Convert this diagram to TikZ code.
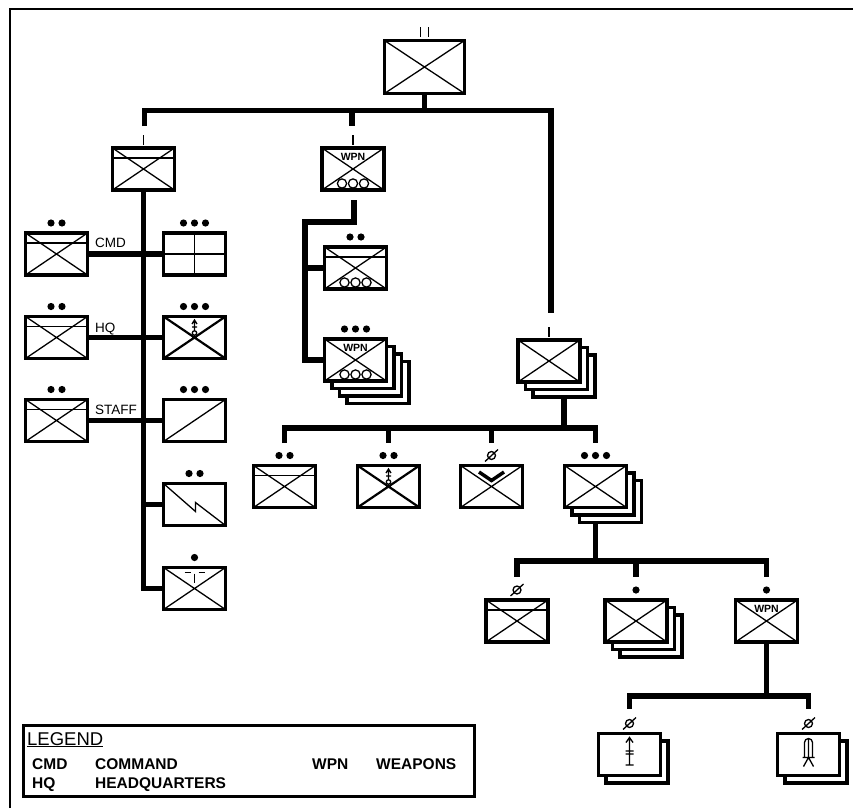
\documentclass[tikz,border=0pt]{standalone}
\usepackage{fontspec}
\setmainfont{Liberation Sans}
\usetikzlibrary{shadows}

\tikzset{
  unit/.style={draw, line width=3.1pt, fill=white, minimum width=62pt, minimum height=42pt, inner sep=0pt, outer sep=0pt},
  bigunit/.style={unit, minimum width=80pt, minimum height=53pt},
  stacked/.style={general shadow={shadow xshift=#1pt, shadow yshift=-#1pt, draw=black, fill=white, line width=3.1pt}},
  conn/.style={line width=5.5pt},
  thinline/.style={line width=1.3pt},
  boldline/.style={line width=2.2pt},
  lbl/.style={font=\fontsize{13.5}{14}\selectfont, inner sep=0pt, anchor=base west},
  wpntext/.style={font=\bfseries\fontsize{10.5}{11}\selectfont, inner sep=0pt},
  legtext/.style={font=\bfseries\fontsize{15.5}{16}\selectfont, inner sep=0pt, anchor=base west},
}

% Symbol helpers
\newcommand\crossX[2][thinline]{\draw[#1] (#2.north west) -- (#2.south east) (#2.south west) -- (#2.north east);}
\newcommand\hqband[1]{\draw[thinline] ([shift={(0,10)}]#1.north west) -- ([shift={(0,10)}]#1.north east);}
\newcommand\echdots[2]{\foreach \k in {1,...,#2}{\fill ([shift={({(\k-(#2+1)/2)*11},-10)}]#1.north) circle (3.6);}}
\newcommand\echbar[2]{\foreach \dx in {#2}{\draw[thinline] ([shift={(\dx,-3.5)}]#1.north) -- ++(0,-10);}}
\newcommand\echteam[1]{\draw[thinline] ([shift={(0,-10)}]#1.north) circle (4);
  \draw[thinline] ([shift={(-6.5,-4)}]#1.north) -- ([shift={(6.5,-16)}]#1.north);}
\newcommand\wpnlabel[1]{\node[wpntext] (#1-wpn) at ([shift={(0,8.5)}]#1.north) {WPN};}
\newcommand\wpnguns[1]{\foreach \k in {-1,0,1}{\draw[thinline] ([shift={(\k*11,-6.5)}]#1.south) circle (4.6);}}
\newcommand\medsym[1]{\draw[thinline] ([shift={(0,3.5)}]#1.north) -- ++(0,11)
  ([shift={(-2.5,7.5)}]#1.north) -- ([shift={(0,3.5)}]#1.north) -- ([shift={(2.5,7.5)}]#1.north)
  ([shift={(-2.5,10.5)}]#1.north) -- ++(5,0);
  \draw[thinline] ([shift={(0,16.5)}]#1.north) circle (2.2);}

\begin{document}
\begin{tikzpicture}[x=1pt,y=-1pt]
  % Page frame
  \useasboundingbox (0,0) rectangle (853,808);
  \draw[line width=2.8pt] (10,808) -- (10,9) -- (853,9);

  % Battalion and companies
  \node[bigunit] (bn) at (424.5,67) {};
  \node[unit] (hhc) at (143.5,169) {};
  \node[unit] (wpnco) at (353,169) {};
  \node[unit, stacked=15, stacked=7.5] (rco) at (549,361) {};

  % HQ company sections and platoons
  \node[unit] (cmdsec) at (56.5,254) {};
  \node[unit] (cmdplt) at (194.5,254) {};
  \node[unit] (hqsec) at (56.5,337.5) {};
  \node[unit] (medplt) at (194.5,337.5) {};
  \node[unit] (stfsec) at (56.5,420.5) {};
  \node[unit] (supplt) at (194.5,420.5) {};
  \node[unit] (sigsec) at (194.5,504.5) {};
  \node[unit] (mpsqd) at (194.5,588.5) {};

  % Weapons company
  \node[unit] (wsec) at (355.5,268) {};
  \node[unit, stacked=22.5, stacked=15, stacked=7.5] (wplt) at (355.5,360) {};

  % Rifle company
  \node[unit] (rhq) at (284.5,486.5) {};
  \node[unit] (rmed) at (388.5,486.5) {};
  \node[unit] (rfist) at (491.5,486.5) {};
  \node[unit, stacked=15, stacked=7.5] (rplt) at (595.5,486.5) {};

  % Rifle platoon
  \node[unit] (phq) at (517,621) {};
  \node[unit, stacked=15, stacked=7.5] (psqd) at (636,621) {};
  \node[unit] (pwpn) at (766.5,621) {};

  % Weapons squad teams
  \node[unit, stacked=7.5] (tmat) at (629.5,754.5) {};
  \node[unit, stacked=7.5] (tmgun) at (808.5,754.5) {};

  % Crosses and inner marks
  \foreach \n in {bn,hhc,wpnco,rco,cmdsec,hqsec,stfsec,mpsqd,wsec,wplt,rhq,rfist,rplt,phq,psqd,pwpn}{\crossX{\n}}
  \crossX[boldline]{medplt}
  \crossX[boldline]{rmed}
  \foreach \n in {hhc,cmdsec,hqsec,stfsec,wsec,rhq,phq}{\hqband{\n}}
  \draw[thinline] (cmdplt.north) -- (cmdplt.south) (cmdplt.west) -- (cmdplt.east);
  \draw[thinline] (supplt.south west) -- (supplt.north east);
  \draw[thinline] (sigsec.north west) -- ([shift={(1,7)}]sigsec.center) -- ([shift={(1,-2)}]sigsec.center) -- (sigsec.south east);
  \draw[thinline] ([shift={(-10,5)}]mpsqd.north) -- ++(6,0) ([shift={(4,5)}]mpsqd.north) -- ++(6,0)
    ([shift={(0,6)}]mpsqd.north) -- ++(0,9);
  \medsym{medplt}
  \medsym{rmed}
  \draw[line width=3.5pt] ([shift={(-12.5,6.5)}]rfist.north) -- ([shift={(0,15)}]rfist.north) -- ([shift={(12.5,6.5)}]rfist.north);
  \foreach \n in {wpnco,wplt,pwpn}{\wpnlabel{\n}}
  \foreach \n in {wpnco,wsec,wplt}{\wpnguns{\n}}
  % anti-tank and gun team marks
  \draw[thinline] ([shift={(0,4)}]tmat.north) -- ([shift={(0,31.5)}]tmat.north)
    ([shift={(-3.5,9)}]tmat.north) -- ([shift={(0,4)}]tmat.north) -- ([shift={(3.5,9)}]tmat.north)
    ([shift={(-4,17.5)}]tmat.north) -- ++(8,0) ([shift={(-4,20.5)}]tmat.north) -- ++(8,0)
    ([shift={(-4,31.5)}]tmat.north) -- ++(8,0);
  \draw[thinline] ([shift={(-4,24)}]tmgun.north) -- ([shift={(-4,9)}]tmgun.north)
    arc[start angle=180, end angle=360, radius=4] -- ([shift={(4,24)}]tmgun.north)
    ([shift={(0,5)}]tmgun.north) -- ([shift={(0,24)}]tmgun.north)
    ([shift={(-6,24)}]tmgun.north) -- ++(12,0)
    ([shift={(0,24)}]tmgun.north) -- ++(-5,9) ([shift={(0,24)}]tmgun.north) -- ++(5,9);

  % Echelon marks
  \echbar{bn}{-4,4}
  \foreach \n in {hhc,wpnco,rco}{\echbar{\n}{0}}
  \foreach \n in {cmdplt,medplt,supplt,wplt,rplt}{\echdots{\n}{3}}
  \foreach \n in {cmdsec,hqsec,stfsec,sigsec,wsec,rhq,rmed}{\echdots{\n}{2}}
  \foreach \n in {mpsqd,psqd,pwpn}{\echdots{\n}{1}}
  \foreach \n in {rfist,phq,tmat,tmgun}{\echteam{\n}}

  % Section labels
  \node[lbl] (cmdlbl) at ([shift={(7.5,-7)}]cmdsec.east) {CMD};
  \node[lbl] (hqlbl) at ([shift={(7.5,-5.5)}]hqsec.east) {HQ};
  \node[lbl] (stflbl) at ([shift={(7.5,-6.5)}]stfsec.east) {STAFF};

  % Connectors: battalion
  \coordinate (busL) at (144.5,110.5);
  \coordinate (busR) at (551,110.5);
  \coordinate (rin) at (551,313);
  \draw[conn] (bn.south) -- (bn.south |- busL);
  \draw[conn] (144.5,126) -- (busL) -- (busR) -- (rin);
  \draw[conn] (352,110.5) -- (352,126);

  % Connectors: HQ company
  \draw[conn] (hhc.south) -- (hhc.south |- mpsqd.west) -- (mpsqd.west);
  \draw[conn] (cmdsec.east) -- (cmdplt.west);
  \draw[conn] (hqsec.east) -- (medplt.west);
  \draw[conn] (stfsec.east) -- (supplt.west);
  \draw[conn] (hhc.south |- sigsec.west) -- (sigsec.west);

  % Connectors: weapons company
  \coordinate (wtop) at (354,200);
  \coordinate (wbend) at (305,222);
  \draw[conn] (wtop) -- (wtop |- wbend) -- (wbend) -- (wbend |- wplt.west) -- (wplt.west);
  \draw[conn] (wbend |- wsec.west) -- (wsec.west);

  % Connectors: rifle company
  \coordinate (bus2) at (564,428);
  \draw[conn] ([shift={(15,15)}]rco.south) -- (bus2);
  \draw[conn] ([shift={(0,-22.5)}]rhq.north) -- (rhq.north |- bus2) -- (rplt.north |- bus2) -- ([shift={(0,-22.5)}]rplt.north);
  \foreach \n in {rmed,rfist}{\draw[conn] (\n.north |- bus2) -- ([shift={(0,-22.5)}]\n.north);}

  % Connectors: rifle platoon
  \coordinate (bus3) at (595.5,561);
  \draw[conn] ([shift={(0,15)}]rplt.south) -- (bus3);
  \draw[conn] ([shift={(0,-23.5)}]phq.north) -- (phq.north |- bus3) -- (pwpn.north |- bus3) -- ([shift={(0,-23.5)}]pwpn.north);
  \draw[conn] (psqd.north |- bus3) -- ([shift={(0,-23.5)}]psqd.north);

  % Connectors: weapons squad
  \coordinate (bus4) at (768,696);
  \draw[conn] (pwpn.south) -- (pwpn.south |- bus4);
  \draw[conn] ([shift={(0,-25)}]tmat.north) -- (tmat.north |- bus4) -- (tmgun.north |- bus4) -- ([shift={(0,-25)}]tmgun.north);

  % Legend
  \node[draw, line width=3.1pt, minimum width=451pt, minimum height=71pt, inner sep=0pt, outer sep=0pt, anchor=north west] (legend) at (23.5,725.5) {};
  \node[legtext, font=\fontsize{18.5}{19}\selectfont] (legtitle) at (27,745) {\underline{LEGEND}};
  \node[legtext] (legcmd) at (32,769) {CMD};
  \node[legtext] (legcmdtx) at (95,769) {COMMAND};
  \node[legtext] (legwpn) at (312,769) {WPN};
  \node[legtext] (legwpntx) at (376,769) {WEAPONS};
  \node[legtext] (leghq) at (32,788) {HQ};
  \node[legtext] (leghqtx) at (95,788) {HEADQUARTERS};
\end{tikzpicture}
\end{document}
